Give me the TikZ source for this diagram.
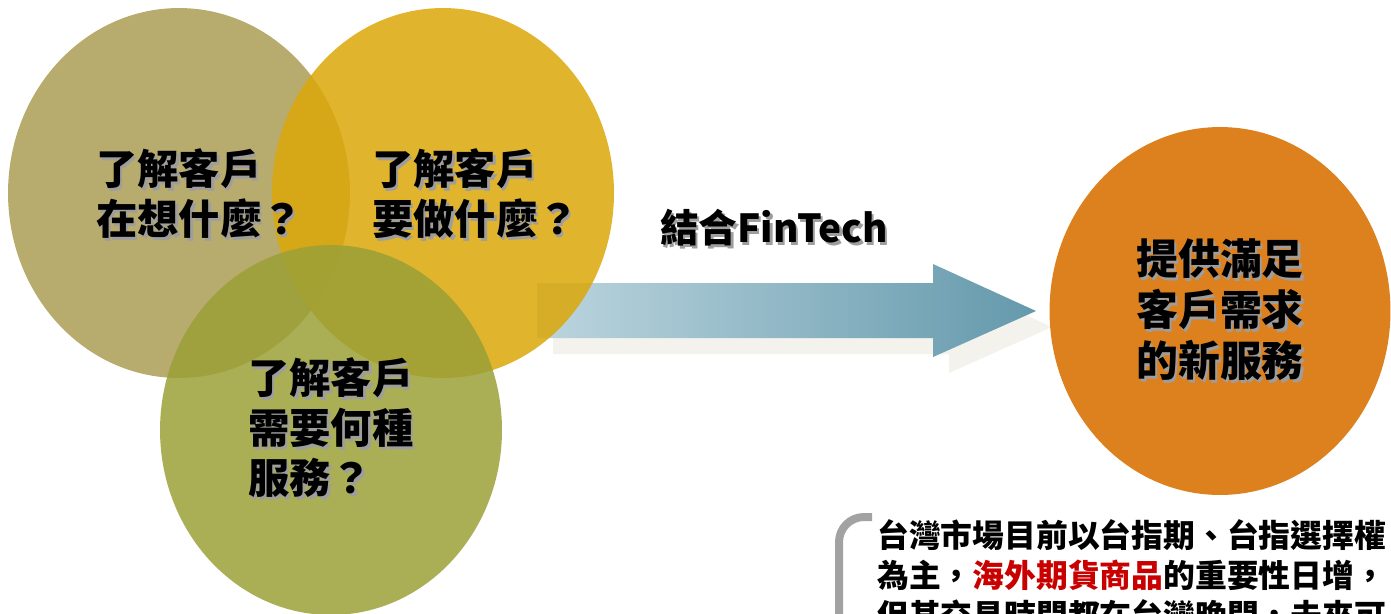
\documentclass[tikz,border=0pt]{standalone}
\usepackage{fontspec}
\setmainfont{Noto Sans CJK TC}
\usetikzlibrary{shapes.geometric}

\definecolor{thinkcol}{RGB}{184,171,110}
\definecolor{doingcol}{RGB}{220,167,8}
\definecolor{needcol}{RGB}{155,160,55}
\definecolor{servecol}{RGB}{221,129,30}
\definecolor{flowlight}{RGB}{188,213,222}
\definecolor{flowmid}{RGB}{158,192,204}
\definecolor{flowdark}{RGB}{100,153,172}
\definecolor{flowshadow}{RGB}{244,242,236}
\definecolor{bracketcol}{RGB}{162,162,162}
\definecolor{hotred}{RGB}{200,0,0}

% text with a soft drop shadow
\newcommand{\shd}[1]{\rlap{\kern1.4pt\raisebox{-1.4pt}{\color{black!38}#1}}#1}

\begin{document}
\begin{tikzpicture}[x=0.02cm, y=-0.02cm,
    bubble/.style={ellipse, inner sep=0, minimum width=6.84cm, minimum height=7.4cm, fill opacity=0.85},
    bubbletext/.style={font=\bfseries\fontsize{23.5}{28.4}\selectfont, align=left, anchor=west, inner sep=0}]

    \useasboundingbox (0,0) rectangle (1391,613);
    \clip (0,0) rectangle (1391,613);

    % Block arrow with its shadow
    \fill[flowshadow, shift={(16,16)}] (537,283) -- (933,283) -- (933,264) -- (1036,311)
        -- (933,357) -- (933,338) -- (537,338) -- cycle;
    \shade[left color=flowlight, middle color=flowmid, right color=flowdark]
        (537,283) -- (933,283) -- (933,264) -- (1036,311)
        -- (933,357) -- (933,338) -- (537,338) -- cycle;
    \node[font=\bfseries\fontsize{22}{26}\selectfont, inner sep=0] (fintech) at (774,229) {\shd{結合FinTech}};

    % Three overlapping circles
    \node[bubble, fill=thinkcol, fill opacity=1] (think) at (179,193) {};
    \node[bubble, fill=doingcol] (doing) at (443,193) {};
    \node[bubble, fill=needcol] (need) at (331,430) {};

    \node[bubbletext] (thinkq) at (96,195) {\shd{了解客戶}\\\shd{在想什麼？}};
    \node[bubbletext] (doingq) at (372,195) {\shd{了解客戶}\\\shd{要做什麼？}};
    \node[bubbletext] (needq) at (248,429) {\shd{了解客戶}\\\shd{需要何種}\\\shd{服務？}};

    % Result circle
    \node[ellipse, inner sep=0, minimum width=6.82cm, minimum height=7.36cm, fill=servecol,
        font=\bfseries\fontsize{23.8}{29}\selectfont, align=center] (serve) at (1220,311)
        {\shd{提供滿足}\\\shd{客戶需求}\\\shd{的新服務}};

    % Note at the bottom right
    \draw[bracketcol, line width=0.16cm, rounded corners=0.5cm] (839,660) -- (839,517) -- (872,517);
    \node[font=\bfseries\fontsize{18.1}{22.7}\selectfont, align=left, anchor=west, inner sep=0] (note) at (877,575)
        {台灣市場目前以台指期、台指選擇權\\為主，{\color{hotred}海外期貨商品}的重要性日增，\\但其交易時間都在台灣晚間，未來可};
\end{tikzpicture}
\end{document}
